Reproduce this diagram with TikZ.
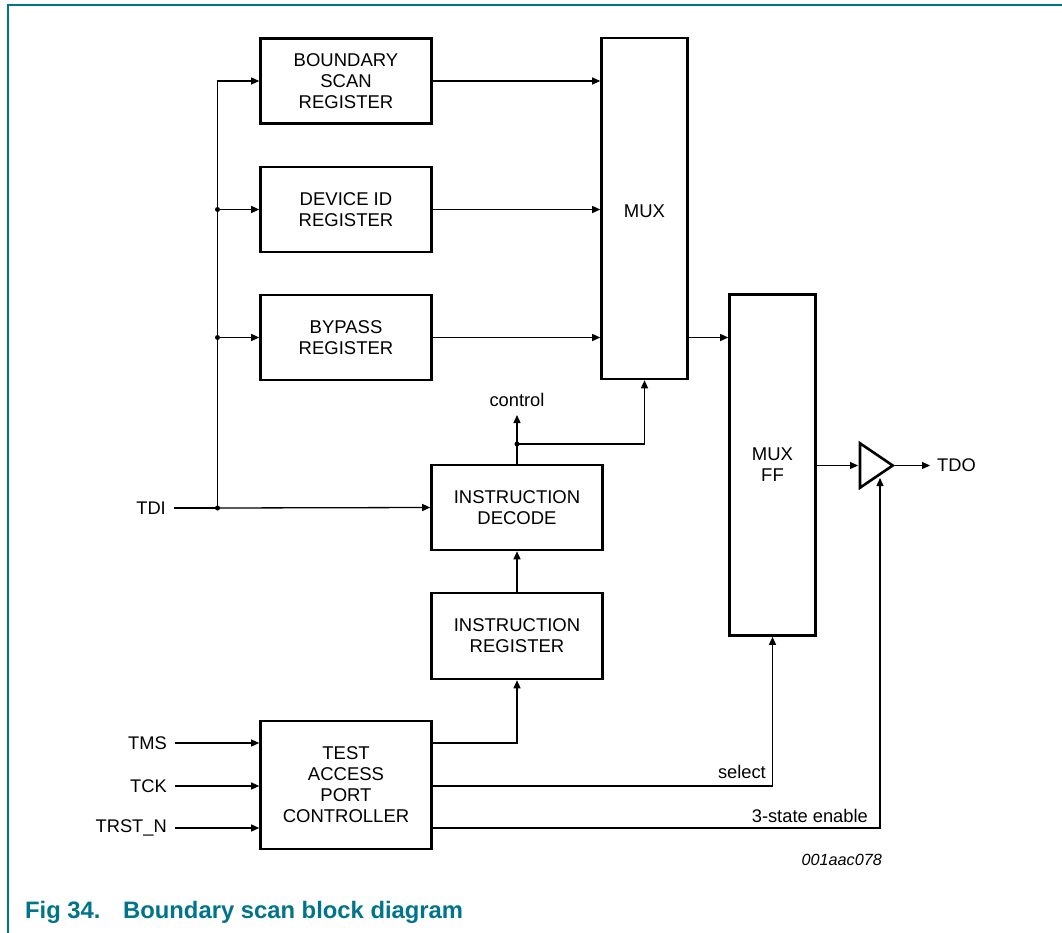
\documentclass[tikz,border=0pt]{standalone}
\usepackage{fontspec}
\setmainfont{Liberation Sans}
\usetikzlibrary{arrows.meta,calc}
\definecolor{nxpteal}{RGB}{0,116,138}
\begin{document}
\begin{tikzpicture}[x=1pt,y=-1pt,
  blk/.style={draw,line width=2.6pt,minimum width=171pt,align=center,inner sep=0pt,
    font=\fontsize{18.5}{21}\selectfont,execute at begin node={\rule{0pt}{18.5pt}}},
  lbl/.style={inner sep=0pt,font=\fontsize{18.3}{21}\selectfont},
  wire/.style={line width=1.3pt},
  arr/.style={wire,-{Triangle[length=8pt,width=7pt]}},
  jdot/.style={circle,fill,inner sep=0pt,minimum size=5pt}]
\useasboundingbox (0,0) rectangle (1062,933);
% frame
\draw[nxpteal,line width=2pt] (8.3,933) -- (8.3,4.7) -- (1062,4.7);
% blocks
\node[blk,minimum height=85pt] (bsr) at (346,81) {BOUNDARY\\SCAN\\REGISTER};
\node[blk,minimum height=85pt] (did) at (346,209.5) {DEVICE ID\\REGISTER};
\node[blk,minimum height=85pt] (byp) at (346,337.5) {BYPASS\\REGISTER};
\node[blk,minimum width=86pt,minimum height=341pt] (mux) at (644.5,208.5) {MUX};
\node[blk,minimum width=86pt,minimum height=341pt] (muxff) at (772.5,465) {MUX\\FF};
\node[blk,minimum height=85pt] (idec) at (517,507.5) {INSTRUCTION\\DECODE};
\node[blk,minimum height=86pt] (ireg) at (517,636) {INSTRUCTION\\REGISTER};
\node[blk,minimum height=128pt] (tap) at (346,785) {TEST\\ACCESS\\PORT\\CONTROLLER};
% buffer
\coordinate (bufin) at (860,465.5);
\coordinate (bufout) at (892.7,465.5);
\coordinate (bufen) at (880,478);
\draw[line width=2.6pt,line join=miter] (860,443.3) -- (bufout) -- (860,487.7) -- cycle;
% labels
\node[lbl,anchor=east] (tdi) at (166,508) {TDI};
\node[lbl,anchor=east] (tms) at (167,743) {TMS};
\node[lbl,anchor=east] (tck) at (167,786) {TCK};
\node[lbl,anchor=east] (trst) at (167,828) {TRST\_N};
\node[lbl,anchor=west] (tdo) at (937,465.5) {TDO};
\node[lbl,anchor=base] (ctrl) at (517,406) {control};
\node[lbl,anchor=base east] (sel) at (766,778) {select};
\node[lbl,anchor=base east] (tse) at (868,822) {3-state enable};
\node[inner sep=0pt,anchor=base east,font=\fontsize{16.2}{19}\selectfont\itshape] (code) at (882,865) {001aac078};
\node[inner sep=0pt,anchor=base west,text=nxpteal,font=\fontsize{23.8}{28}\selectfont\bfseries] (cap) at (25,918) {Fig 34.\hspace{0.95em}Boundary scan block diagram};
% TDI bus
\coordinate (tdij) at (217.5,508);
\coordinate (didj) at (217.5,209.5);
\coordinate (bypj) at (217.5,337.5);
\draw[wire] ([xshift=8pt]tdi.east) -- (tdij);
\draw[arr] (tdij) -- (idec.west);
\draw[arr] (tdij) |- (bsr.west);
\draw[arr] (didj) -- (did.west);
\draw[arr] (bypj) -- (byp.west);
\node[jdot] at (tdij) {};
\node[jdot] at (didj) {};
\node[jdot] at (bypj) {};
% registers to MUX
\draw[arr] (bsr.east) -- (bsr.east -| mux.west);
\draw[arr] (did.east) -- (did.east -| mux.west);
\draw[arr] (byp.east) -- (byp.east -| mux.west);
\draw[arr] (byp.east -| mux.east) -- (byp.east -| muxff.west);
% MUX FF to buffer to TDO
\draw[arr] (muxff.east |- bufin) -- ([xshift=-2pt]bufin);
\draw[arr] (bufout) -- ([xshift=-7pt]tdo.west);
% control
\coordinate (cdot) at (517,444);
\coordinate (ctrlend) at (517,415);
\draw[wire] (idec.north) -- (cdot);
\draw[arr] (cdot) -- (ctrlend);
\draw[arr] (cdot) -| (mux.south);
\node[jdot] at (cdot) {};
% instruction path
\draw[arr] (ireg.north) -- (idec.south);
\draw[arr] ([yshift=42pt]tap.east) -| (ireg.south);
% TAP outputs
\draw[arr] ([yshift=-1pt]tap.east) -| (muxff.south);
\draw[arr] ([yshift=-43pt]tap.east) -| (bufen);
% inputs
\draw[arr] ([xshift=8pt]tms.east) -- (tap.west |- tms.east);
\draw[arr] ([xshift=8pt]tck.east) -- (tap.west |- tck.east);
\draw[arr] ([xshift=8pt]trst.east) -- (tap.west |- trst.east);
\end{tikzpicture}
\end{document}
